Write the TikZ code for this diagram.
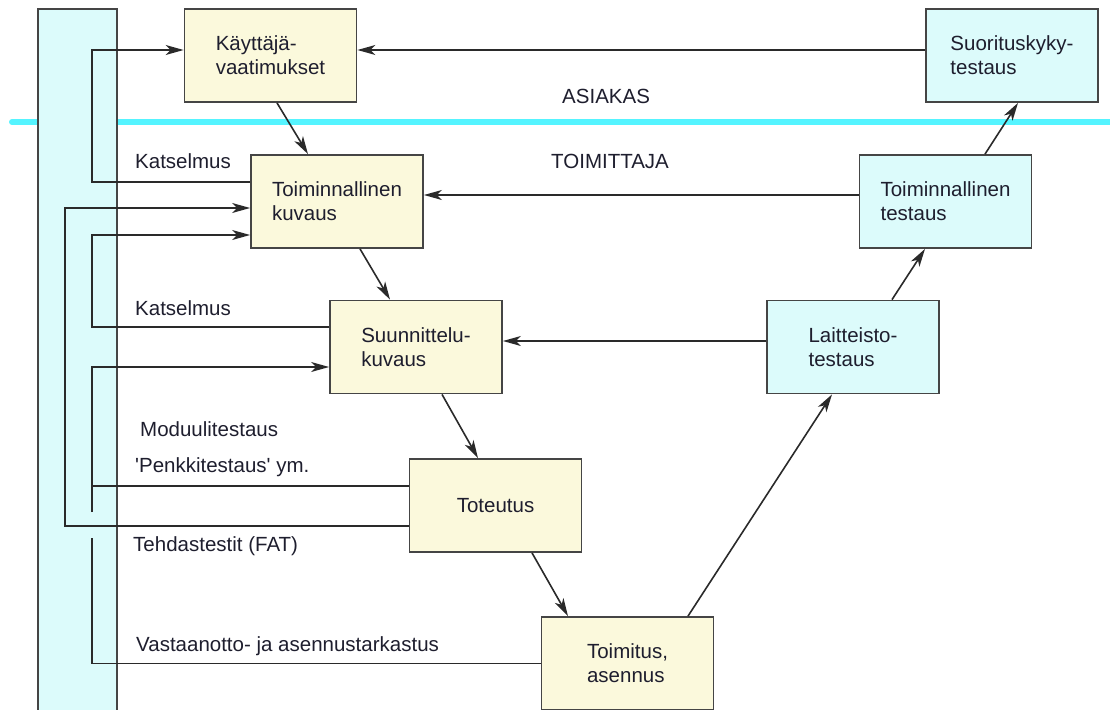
\documentclass[tikz,border=0pt]{standalone}
\usepackage{fontspec}
\setmainfont{Liberation Sans}
\usetikzlibrary{arrows.meta}
\definecolor{boxyellow}{HTML}{FBF9DC}
\definecolor{boxcyan}{HTML}{DCFBFB}
\definecolor{bordergray}{HTML}{454545}
\definecolor{linedark}{HTML}{2A2A2A}
\definecolor{lanecyan}{HTML}{55F4FF}
\definecolor{textdark}{HTML}{1E1E2E}
\tikzset{
  phase/.style={draw=bordergray, line width=1.8pt, rectangle, minimum width=172pt,
    minimum height=93pt, align=left, inner sep=0pt, text=textdark,
    font=\fontsize{20.5}{24}\selectfont},
  supplier/.style={phase, fill=boxyellow},
  testing/.style={phase, fill=boxcyan},
  lbl/.style={anchor=base west, inner sep=0pt, text=textdark,
    font=\fontsize{20.5}{24}\selectfont},
  conn/.style={draw=linedark, line width=1.6pt},
  arr/.style={conn, -{Stealth[length=18pt, width=10pt, inset=5pt]}},
}
\begin{document}
\begin{tikzpicture}[x=1pt, y=-1pt]
\useasboundingbox (0,0) rectangle (1110,709);

% customer / supplier boundary
\draw[lanecyan, line width=6pt, line cap=round] (12,122) -- (1115,122);

% review rail on the left
\path[fill=boxcyan, draw=bordergray, line width=1.8pt] (38,9) rectangle (117,714);

% phases of the V model
\node[supplier] (kv) at (270.5,55.5) {Käyttäjä-\\vaatimukset};
\node[supplier] (tk) at (337,201.5) {Toiminnallinen\\kuvaus};
\node[supplier] (su) at (416,347) {Suunnittelu-\\kuvaus};
\node[supplier] (to) at (495.5,505.5) {Toteutus};
\node[supplier] (ta) at (627.5,663.5) {Toimitus,\\asennus};
\node[testing] (lt) at (853,347) {Laitteisto-\\testaus};
\node[testing] (tt) at (945.5,201.5) {Toiminnallinen\\testaus};
\node[testing] (sk) at (1012,55.5) {Suorituskyky-\\testaus};

% lane titles
\node[lbl] (asiakas) at (562,103) {ASIAKAS};
\node[lbl] (toimittaja) at (551,168) {TOIMITTAJA};

% descending branch
\draw[arr] ([xshift=6.5pt]kv.south) -- ([xshift=-29pt]tk.north);
\draw[arr] ([xshift=23pt]tk.south) -- ([xshift=-26pt]su.north);
\draw[arr] ([xshift=26pt]su.south) -- ([xshift=-17.5pt]to.north);
\draw[arr] ([xshift=36.5pt]to.south) -- ([xshift=-59.5pt]ta.north);

% ascending branch
\draw[arr] ([xshift=60.5pt]ta.north) -- ([xshift=-21pt]lt.south);
\draw[arr] ([xshift=39pt]lt.north) -- ([xshift=-20.5pt]tt.south);
\draw[arr] ([xshift=39.5pt]tt.north) -- ([xshift=6pt]sk.south);

% test results back to the specifications
\draw[arr] ([yshift=5.5pt]sk.west) -- ([yshift=5.5pt]kv.east);
\draw[arr] ([yshift=6.5pt]tt.west) -- ([yshift=6.5pt]tk.east);
\draw[arr] ([yshift=6pt]lt.west) -- ([yshift=6pt]su.east);

% reviews and tests on the left
\draw[arr] ([yshift=19.5pt]tk.west) -- (92,182) -- (92,50) -- ([yshift=5.5pt]kv.west);
\draw[arr] ([yshift=-20.5pt]to.west) -- (65,526) -- (65,208) -- ([yshift=-6.5pt]tk.west);
\draw[arr] ([yshift=20pt]su.west) -- (92,327) -- (92,235) -- ([yshift=-33.5pt]tk.west);
\draw[arr] ([yshift=19.5pt]to.west) -- (92,486) -- (92,367) -- ([yshift=-20pt]su.west);
\draw[conn] (ta.west) -- (92,663.5) -- (92,538);
\draw[conn] (92,512) -- (92,486);

% rail labels
\node[lbl] (kat1) at (135,168) {Katselmus};
\node[lbl] (kat2) at (135,315) {Katselmus};
\node[lbl] (modu) at (140,436) {Moduulitestaus};
\node[lbl] (penk) at (135,472) {\textquotesingle Penkkitestaus\textquotesingle{} ym.};
\node[lbl] (fat) at (133,551) {Tehdastestit (FAT)};
\node[lbl] (vast) at (136,651) {Vastaanotto- ja asennustarkastus};
\end{tikzpicture}
\end{document}
